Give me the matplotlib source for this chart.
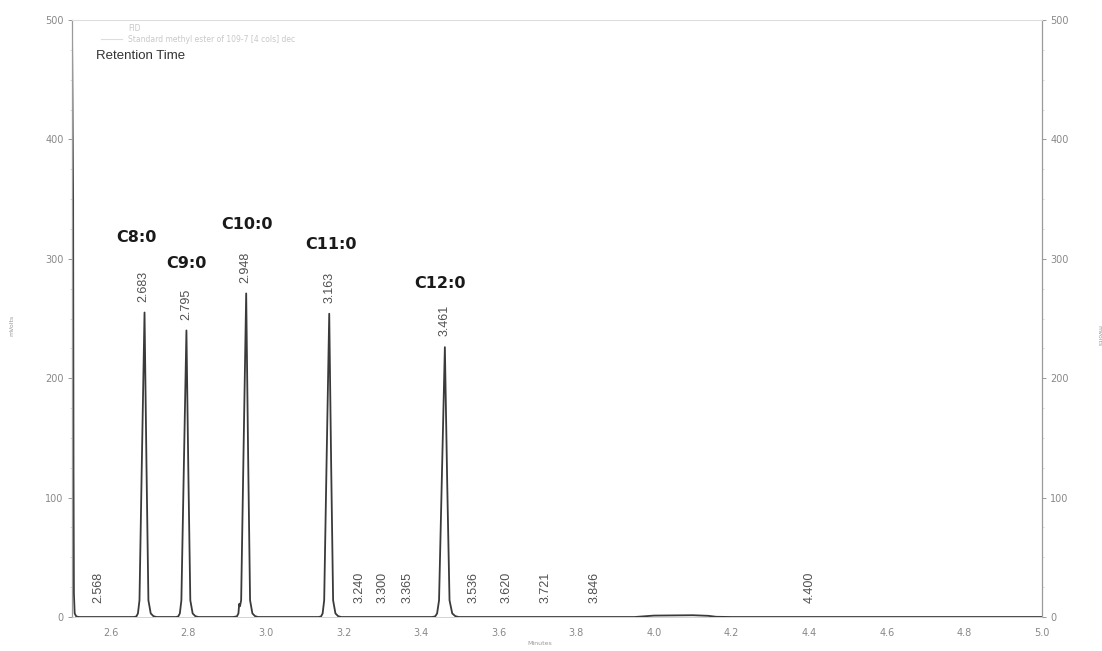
import matplotlib.pyplot as plt
from matplotlib.ticker import MultipleLocator

# trace points (minutes, mVolts)
trace_x = [2.500, 2.503, 2.504, 2.505, 2.507, 2.511, 2.518,
           2.660, 2.666, 2.670, 2.674, 2.680, 2.687, 2.692, 2.697, 2.703, 2.710, 2.718,
           2.768, 2.774, 2.778, 2.782, 2.788, 2.795, 2.800, 2.805, 2.811, 2.818, 2.826,
           2.915, 2.925, 2.929, 2.931, 2.933, 2.936, 2.942, 2.949, 2.954, 2.959, 2.965, 2.972, 2.980,
           3.136, 3.142, 3.146, 3.150, 3.156, 3.163, 3.168, 3.173, 3.179, 3.186, 3.194,
           3.428, 3.436, 3.441, 3.446, 3.453, 3.461, 3.467, 3.473, 3.480, 3.488, 3.497,
           3.950, 4.000, 4.100, 4.140, 4.160, 4.200, 5.000]
trace_y = [500, 350, 120, 20, 3, 0.5, 0,
           0, 0.5, 3, 14, 128, 255, 128, 14, 3, 0.7, 0,
           0, 0.5, 3, 14, 120, 240, 120, 14, 3, 0.7, 0,
           0, 0.5, 3, 11, 9, 14, 135, 271, 135, 14, 3, 0.7, 0,
           0, 0.5, 3, 14, 127, 254, 127, 14, 3, 0.7, 0,
           0, 0.5, 3, 14, 113, 226, 113, 14, 3, 0.7, 0,
           0, 1.2, 1.5, 1.0, 0.2, 0, 0]

# labelled peaks
peak_rt = [2.683, 2.795, 2.948, 3.163, 3.461]
peak_h = [255, 240, 271, 254, 226]
peak_names = ['C8:0', 'C9:0', 'C10:0', 'C11:0', 'C12:0']
name_x = [2.665, 2.795, 2.950, 3.168, 3.449]
name_y = [318, 296, 329, 312, 279]

# small retention time labels near the baseline
small_rt = [2.568, 3.240, 3.300, 3.365, 3.536, 3.620, 3.721, 3.846, 4.400]

fig = plt.figure(figsize=(11.02, 6.51), dpi=100)
ax = fig.add_axes([0.0653, 0.0522, 0.8803, 0.9171])

ax.plot(trace_x, trace_y, color='#3a3a3a', lw=1.3)

for rt, h in zip(peak_rt, peak_h):
    ax.text(rt, h + 9, f'{rt:.3f}', rotation=90, ha='center', va='bottom',
            fontsize=9, color='#505050', family='Liberation Sans')
for name, nx, ny in zip(peak_names, name_x, name_y):
    ax.text(nx, ny, name, ha='center', va='center', fontsize=11.5,
            fontweight='heavy', color='#1a1a1a', family='DejaVu Sans')
for rt in small_rt:
    ax.text(rt, 12, f'{rt:.3f}', rotation=90, ha='center', va='bottom',
            fontsize=9, color='#505050', family='Liberation Sans')

# header texts
ax.text(2.562, 470, 'Retention Time', fontsize=9.5, color='#333333',
        family='Liberation Sans', va='center')
ax.text(2.645, 493, 'FID', fontsize=5.5, color='#c8c8c8', va='center')
ax.text(2.645, 484, 'Standard methyl ester of 109-7 [4 cols] dec', fontsize=5.5,
        color='#c8c8c8', va='center')
ax.plot([2.575, 2.630], [484, 484], color='#dddddd', lw=0.8)

ax.set_xlim(2.5, 5.0)
ax.set_ylim(0, 500)
ax.xaxis.set_major_locator(MultipleLocator(0.2))
ax.xaxis.set_major_formatter(plt.FuncFormatter(lambda v, p: f'{v:.1f}' if v > 2.55 else ''))
ax.yaxis.set_major_locator(MultipleLocator(100))
ax.yaxis.set_minor_locator(MultipleLocator(25))
ax.tick_params(axis='both', which='major', labelsize=7, colors='#888888',
               length=3, width=0.6, pad=3)
ax.tick_params(axis='y', which='minor', length=1.5, width=0.5, colors='#cccccc')
ax.tick_params(axis='y', right=True, labelright=True, which='both')
ax.tick_params(axis='x', length=0, pad=8)

for side in ['left', 'right']:
    ax.spines[side].set_color('#9a9a9a')
    ax.spines[side].set_linewidth(0.9)
ax.spines['top'].set_color('#dddddd')
ax.spines['bottom'].set_color('#cccccc')
ax.spines['bottom'].set_linewidth(0.6)

fig.text(0.011, 0.50, 'mVolts', rotation=90, fontsize=4.5, color='#999999',
         ha='center', va='center')
fig.text(0.997, 0.485, 'mVolts', rotation=270, fontsize=4.5, color='#999999',
         ha='center', va='center')
fig.text(0.49, 0.008, 'Minutes', fontsize=4.5, color='#999999',
         ha='center', va='bottom')

fig.savefig('out.png', dpi=100)
